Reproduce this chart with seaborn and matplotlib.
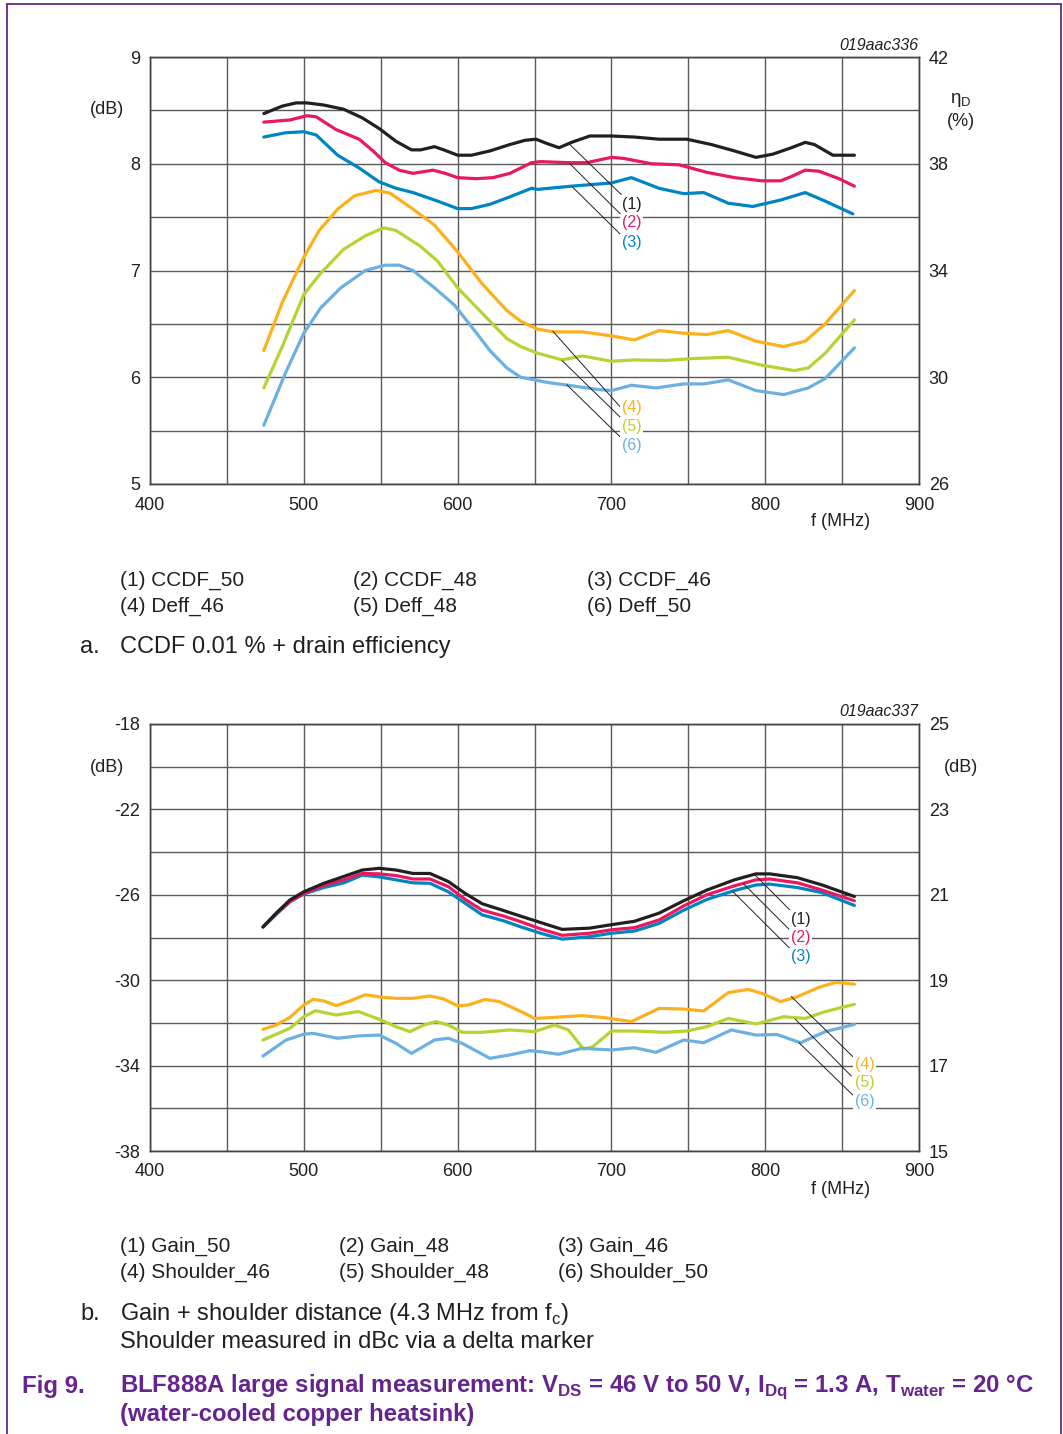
import pandas as pd
import seaborn as sns
import matplotlib.pyplot as plt
from matplotlib.lines import Line2D

# ---- data (f in MHz) ----
# chart a, left axis: CCDF 0.01 % (dB)
f_ccdf50 = [474, 486, 495, 502, 513, 526, 538, 549, 560, 570, 576, 585, 591, 600, 609, 621, 634, 644,
            651, 658, 666, 674, 686, 700, 715, 731, 749, 765, 780, 794, 805, 817, 826, 832, 844, 858]
ccdf50 = [8.47, 8.54, 8.57, 8.57, 8.55, 8.51, 8.43, 8.33, 8.21, 8.13, 8.13, 8.16, 8.13, 8.08, 8.08, 8.12,
          8.18, 8.22, 8.23, 8.19, 8.15, 8.20, 8.26, 8.26, 8.25, 8.23, 8.23, 8.18, 8.12, 8.06, 8.09, 8.15,
          8.20, 8.18, 8.08, 8.08]
f_ccdf48 = [474, 491, 502, 508, 521, 536, 545, 553, 562, 571, 584, 592, 600, 612, 623, 634, 648, 654,
            672, 684, 700, 708, 726, 744, 762, 780, 798, 810, 817, 826, 835, 848, 858]
ccdf48 = [8.39, 8.41, 8.45, 8.44, 8.32, 8.23, 8.12, 8.01, 7.94, 7.91, 7.94, 7.91, 7.87, 7.86, 7.87, 7.91,
          8.01, 8.02, 8.01, 8.01, 8.06, 8.05, 8.00, 7.99, 7.92, 7.87, 7.84, 7.84, 7.88, 7.94, 7.93, 7.86, 7.79]
f_ccdf46 = [474, 488, 500, 508, 522, 536, 549, 560, 571, 587, 600, 609, 621, 634, 648, 652, 674, 700,
            713, 731, 747, 760, 776, 792, 810, 826, 839, 857]
ccdf46 = [8.25, 8.29, 8.30, 8.27, 8.08, 7.96, 7.83, 7.77, 7.73, 7.65, 7.58, 7.58, 7.62, 7.69, 7.77, 7.76,
          7.79, 7.82, 7.87, 7.77, 7.72, 7.73, 7.63, 7.60, 7.66, 7.73, 7.65, 7.53]

# chart a, right axis: drain efficiency (%)
f_deff46 = [474, 486, 500, 510, 522, 533, 547, 556, 571, 585, 600, 616, 632, 641, 652, 663, 681, 700,
            715, 731, 747, 762, 776, 794, 812, 826, 839, 858]
deff46 = [31.0, 32.8, 34.5, 35.5, 36.3, 36.8, 37.0, 36.9, 36.3, 35.7, 34.7, 33.5, 32.5, 32.1, 31.8, 31.7,
          31.7, 31.55, 31.4, 31.75, 31.65, 31.6, 31.75, 31.35, 31.15, 31.35, 32.0, 33.25]
f_deff48 = [474, 486, 500, 511, 526, 540, 552, 560, 576, 587, 600, 616, 632, 641, 652, 668, 681, 700,
            715, 735, 753, 776, 798, 819, 828, 839, 858]
deff48 = [29.6, 31.15, 33.1, 33.9, 34.8, 35.3, 35.6, 35.5, 34.9, 34.35, 33.35, 32.4, 31.45, 31.15, 30.9,
          30.65, 30.8, 30.6, 30.65, 30.63, 30.7, 30.75, 30.45, 30.25, 30.35, 30.9, 32.15]
f_deff50 = [474, 488, 500, 511, 524, 540, 553, 562, 571, 585, 598, 609, 621, 632, 641, 659, 672, 690,
            700, 713, 729, 747, 760, 776, 794, 812, 828, 839, 858]
deff50 = [28.2, 30.15, 31.65, 32.6, 33.35, 34.0, 34.2, 34.2, 34.0, 33.35, 32.7, 31.9, 31.0, 30.35, 30.0,
          29.8, 29.7, 29.55, 29.5, 29.7, 29.6, 29.75, 29.75, 29.9, 29.5, 29.35, 29.6, 29.95, 31.1]

# chart b, right axis: gain (dB)
f_gain = [473.5, 482, 491, 500, 513, 526, 538, 549, 560, 571, 582, 594, 605, 616, 630, 641, 654, 668,
          686, 700, 715, 731, 747, 762, 780, 794, 803, 821, 837, 858]
gain50 = [20.25, 20.57, 20.88, 21.07, 21.27, 21.43, 21.58, 21.62, 21.58, 21.5, 21.5, 21.31, 21.03, 20.79,
          20.63, 20.5, 20.35, 20.19, 20.22, 20.3, 20.38, 20.57, 20.86, 21.11, 21.35, 21.49, 21.49, 21.4,
          21.23, 20.96]
gain48 = [20.25, 20.55, 20.84, 21.03, 21.22, 21.35, 21.5, 21.49, 21.45, 21.37, 21.37, 21.19, 20.89, 20.64,
          20.5, 20.37, 20.2, 20.05, 20.1, 20.18, 20.23, 20.41, 20.74, 21.0, 21.21, 21.35, 21.37, 21.28,
          21.11, 20.86]
gain46 = [20.24, 20.54, 20.84, 21.02, 21.17, 21.28, 21.46, 21.42, 21.35, 21.28, 21.27, 21.07, 20.8, 20.53,
          20.39, 20.25, 20.1, 19.96, 20.02, 20.1, 20.15, 20.33, 20.64, 20.89, 21.1, 21.23, 21.25, 21.17,
          21.05, 20.75]

# chart b, left axis: shoulder distance (dB)
f_sh46 = [473.5, 482, 491, 500, 506, 513, 521, 529, 540, 551, 560, 571, 582, 591, 600, 607, 618, 627,
          638, 645, 650, 663, 681, 695, 713, 731, 747, 760, 776, 789, 798, 810, 821, 835, 846, 858]
sh46 = [-32.3, -32.1, -31.74, -31.16, -30.9, -30.97, -31.19, -31.0, -30.68, -30.8, -30.85, -30.85, -30.74,
        -30.88, -31.2, -31.16, -30.9, -31.0, -31.36, -31.6, -31.79, -31.74, -31.66, -31.75, -31.94, -31.32,
        -31.35, -31.44, -30.58, -30.43, -30.62, -31.0, -30.77, -30.33, -30.1, -30.19]
f_sh48 = [473.5, 491, 500, 507.5, 521, 535.5, 549, 560, 569, 578, 586, 594, 603, 616, 634, 650, 663, 672,
          682, 688, 700, 715, 735, 749, 762, 776, 794, 812, 826, 839, 858]
sh48 = [-32.8, -32.25, -31.71, -31.43, -31.63, -31.47, -31.83, -32.18, -32.41, -32.1, -31.94, -32.1, -32.44,
        -32.44, -32.33, -32.41, -32.1, -32.33, -33.24, -33.11, -32.38, -32.38, -32.44, -32.38, -32.18,
        -31.79, -32.05, -31.71, -31.79, -31.47, -31.13]
f_sh50 = [473.5, 488.5, 500, 506, 522, 535.5, 549, 560, 570, 585, 594, 603, 621, 634, 647, 654, 665.5, 681,
          700, 715, 729, 747, 760, 778, 794, 807.5, 823, 839, 858]
sh50 = [-33.55, -32.8, -32.53, -32.49, -32.72, -32.61, -32.57, -32.96, -33.43, -32.8, -32.72, -32.96,
        -33.66, -33.5, -33.3, -33.35, -33.47, -33.19, -33.27, -33.16, -33.38, -32.8, -32.93, -32.33, -32.57,
        -32.54, -32.93, -32.41, -32.07]

# curve labels and their leader lines (left-axis data coords)
lbl_a = ["(1)", "(2)", "(3)", "(4)", "(5)", "(6)"]
lbl_a_x = [713, 713, 713, 713, 713, 713]
lbl_a_y = [7.62, 7.45, 7.26, 5.72, 5.54, 5.365]
lead_a = [((673, 8.18), (706.5, 7.71)), ((673, 8.0), (706.5, 7.52)), ((674.5, 7.785), (706.5, 7.33)),
          ((662, 6.43), (706.5, 5.71)), ((668, 6.155), (706.5, 5.615)), ((671, 5.93), (706.5, 5.43))]
lbl_b_x = [823, 823, 823, 864.5, 864.5, 864.5]
lbl_b_y = [-27.15, -28.01, -28.9, -33.93, -34.8, -35.69]
lead_b = [((793.4, -25.07), (816, -26.71)), ((786, -25.49), (816, -27.65)), ((779, -25.85), (816, -28.51)),
          ((817, -30.77), (857, -33.58)), ((819.5, -31.82), (856, -34.49)), ((822, -32.93), (857, -35.38))]

legend_a = ["(1) CCDF_50", "(2) CCDF_48", "(3) CCDF_46", "(4) Deff_46", "(5) Deff_48", "(6) Deff_50"]
legend_b = ["(1) Gain_50", "(2) Gain_48", "(3) Gain_46", "(4) Shoulder_46", "(5) Shoulder_48", "(6) Shoulder_50"]

BLACK, RED, BLUE = "#231f20", "#e8195e", "#0085c4"
ORANGE, GREEN, LBLUE = "#fcb11c", "#b6d334", "#6cb0e0"
PURPLE = "#65258c"
lbl_colors = [BLACK, RED, BLUE, ORANGE, GREEN, LBLUE]

W, H = 1063, 1434

sns.set_theme(style="white")
plt.rcParams["font.family"] = ["Liberation Sans", "DejaVu Sans"]
plt.rcParams["mathtext.fontset"] = "custom"
plt.rcParams["mathtext.rm"] = "Liberation Sans"
plt.rcParams["axes.unicode_minus"] = False


def long_df(freqs, values, names):
    return pd.concat([pd.DataFrame({"f": f, "v": v, "s": n}) for f, v, n in zip(freqs, values, names)],
                     ignore_index=True)


def P(x, y):
    return x / W, 1 - y / H


fig = plt.figure(figsize=(W / 100, H / 100), dpi=100)


def make_axes(top_px, ylim, ymaj, ymin, ylim2, ymaj2):
    ax = fig.add_axes([150 / W, 1 - (top_px + 427) / H, 769 / W, 427 / H])
    ax2 = ax.twinx()
    for a in (ax, ax2):
        a.set_xlim(400, 900)
        for sp in a.spines.values():
            sp.set_color("#444444")
            sp.set_linewidth(1.0)
        a.tick_params(length=0, labelsize=13, pad=7, colors="#231f20")
    ax.tick_params(axis="x", pad=9)
    ax.set_xticks(range(400, 901, 100))
    ax.set_xticks(range(450, 900, 100), minor=True)
    ax.set_ylim(*ylim)
    ax.set_yticks(ymaj)
    ax.set_yticks(ymin, minor=True)
    ax.tick_params(which="minor", length=0)
    ax.grid(True, which="both", color="#5a5a5a", linewidth=1.0)
    ax.set_axisbelow(True)
    ax2.set_ylim(*ylim2)
    ax2.set_yticks(ymaj2)
    ax2.grid(False)
    return ax, ax2


# ---- chart a ----
axA, axA2 = make_axes(57, (5, 9), [5, 6, 7, 8, 9], [5.5, 6.5, 7.5, 8.5], (26, 42), [26, 30, 34, 38, 42])
df_ccdf = long_df([f_ccdf50, f_ccdf48, f_ccdf46], [ccdf50, ccdf48, ccdf46], ["c50", "c48", "c46"])
df_deff = long_df([f_deff46, f_deff48, f_deff50], [deff46, deff48, deff50], ["d46", "d48", "d50"])
sns.lineplot(data=df_ccdf, x="f", y="v", hue="s", palette={"c50": BLACK, "c48": RED, "c46": BLUE},
             estimator=None, linewidth=2.3, legend=False, ax=axA)
sns.lineplot(data=df_deff, x="f", y="v", hue="s", palette={"d46": ORANGE, "d48": GREEN, "d50": LBLUE},
             estimator=None, linewidth=2.3, legend=False, ax=axA2)

# ---- chart b ----
axB, axB2 = make_axes(724, (-38, -18), [-38, -34, -30, -26, -22, -18], [-36, -32, -28, -24, -20],
                      (15, 25), [15, 17, 19, 21, 23, 25])
df_sh = long_df([f_sh46, f_sh48, f_sh50], [sh46, sh48, sh50], ["s46", "s48", "s50"])
df_gain = long_df([f_gain, f_gain, f_gain], [gain46, gain48, gain50], ["g46", "g48", "g50"])
sns.lineplot(data=df_sh, x="f", y="v", hue="s", palette={"s46": ORANGE, "s48": GREEN, "s50": LBLUE},
             estimator=None, linewidth=2.3, legend=False, ax=axB)
sns.lineplot(data=df_gain, x="f", y="v", hue="s", palette={"g46": BLUE, "g48": RED, "g50": BLACK},
             estimator=None, linewidth=2.3, legend=False, ax=axB2)

for a in (axA, axA2, axB, axB2):
    a.set_xlabel("")
    a.set_ylabel("")
    a.set_xlim(400, 900)
axA.set_ylim(5, 9)
axA2.set_ylim(26, 42)
axB.set_ylim(-38, -18)
axB2.set_ylim(15, 25)

# leaders + curve labels, drawn on the twin axes so they sit on top
for base, top, lx, ly, leads in ((axA, axA2, lbl_a_x, lbl_a_y, lead_a), (axB, axB2, lbl_b_x, lbl_b_y, lead_b)):
    for i, ((x0, y0), (x1, y1)) in enumerate(leads):
        top.add_line(Line2D([x0, x1], [y0, y1], transform=base.transData, color="#231f20", lw=0.7))
        top.text(lx[i], ly[i], lbl_a[i], transform=base.transData, color=lbl_colors[i], fontsize=11.5,
                 ha="center", va="center", bbox=dict(facecolor="white", edgecolor="none", pad=1.0))

# ---- axis texts ----
fig.text(*P(107, 110), "(dB)", fontsize=13, ha="center", va="center", color=BLACK)
fig.text(*P(961, 100), r"η$_\mathregular{D}$", fontsize=13.5, ha="center", va="center", color=BLACK)
fig.text(*P(961, 121), "(%)", fontsize=13, ha="center", va="center", color=BLACK)
fig.text(*P(841, 522), "f (MHz)", fontsize=13, ha="center", va="center", color=BLACK)
fig.text(*P(918, 45), "019aac336", fontsize=11.5, style="italic", ha="right", va="center", color=BLACK)

fig.text(*P(107, 768), "(dB)", fontsize=13, ha="center", va="center", color=BLACK)
fig.text(*P(961, 768), "(dB)", fontsize=13, ha="center", va="center", color=BLACK)
fig.text(*P(841, 1189), "f (MHz)", fontsize=13, ha="center", va="center", color=BLACK)
fig.text(*P(918, 712), "019aac337", fontsize=11.5, style="italic", ha="right", va="center", color=BLACK)

# ---- legends and captions ----
for i, s in enumerate(legend_a):
    fig.text(*P([120, 353, 587][i % 3], [580, 606][i // 3]), s, fontsize=15, va="center", color=BLACK)
for i, s in enumerate(legend_b):
    fig.text(*P([120, 339, 558][i % 3], [1246, 1272][i // 3]), s, fontsize=15, va="center", color=BLACK)

fig.text(*P(80, 647), "a.", fontsize=17, va="center", color=BLACK)
fig.text(*P(120, 647), "CCDF 0.01 % + drain efficiency", fontsize=17, va="center", color=BLACK)
fig.text(*P(80, 1314), "b.", fontsize=17, va="center", color=BLACK)
fig.text(*P(120, 1314), r"Gain + shoulder distance (4.3 MHz from f$_\mathregular{c}$)", fontsize=17,
         va="center", color=BLACK)
fig.text(*P(120, 1342), "Shoulder measured in dBc via a delta marker", fontsize=17, va="center", color=BLACK)

fig.text(*P(22, 1387), "Fig 9.", fontsize=17.3, weight="bold", va="center", color=PURPLE)
fig.text(*P(120, 1387), r"BLF888A large signal measurement: V$_\mathregular{DS}$ = 46 V to 50 V, "
         r"I$_\mathregular{Dq}$ = 1.3 A, T$_\mathregular{water}$ = 20 °C",
         fontsize=17.3, weight="bold", va="center", color=PURPLE)
fig.text(*P(120, 1414), "(water-cooled copper heatsink)", fontsize=17.3, weight="bold", va="center",
         color=PURPLE)

# purple frame (top, left, right)
for xs, ys in (([7, 1061], [4, 4]), ([7, 7], [4, H]), ([1061, 1061], [4, H])):
    fig.add_artist(Line2D([x / W for x in xs], [1 - y / H for y in ys], transform=fig.transFigure,
                          color=PURPLE, lw=1.3))

fig.savefig("out.png", dpi=100)
